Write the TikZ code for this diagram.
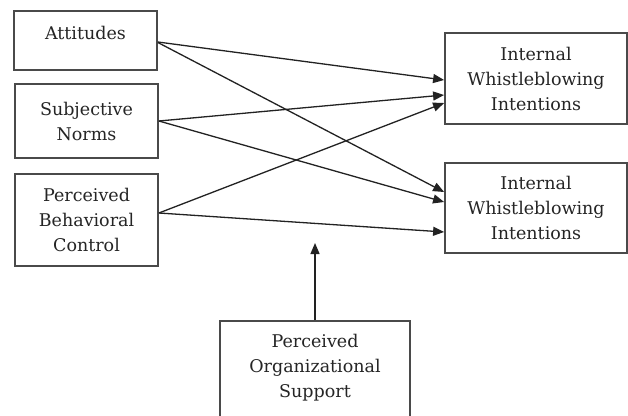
\documentclass[tikz,border=0pt]{standalone}
\usepackage{fontspec}
\setmainfont{DejaVu Serif}
\usetikzlibrary{arrows.meta}
\definecolor{ln}{HTML}{222222}
\definecolor{bx}{HTML}{4A4A4A}
\definecolor{tx}{HTML}{252525}
\begin{document}
\begin{tikzpicture}[x=1pt,y=-1pt,
  box/.style={draw=bx,line width=1.8pt,rectangle,inner sep=0pt,font=\fontsize{17.5}{25}\selectfont,text=tx,align=center},
  txt/.style={font=\fontsize{17.5}{25}\selectfont,text=tx,align=center,inner sep=0pt},
  arr/.style={draw=ln,line width=1.3pt,-{Triangle[length=11pt,width=9pt]}}]
\useasboundingbox (0,0) rectangle (628,415);
\fill[white] (0,0) rectangle (628,415);
\node[box,minimum width=143,minimum height=59] (att) at (85.5,40.5) {};
\node[txt] (attt) at (85.5,33) {Attitudes};
\node[box,minimum width=143,minimum height=74] (sn) at (86.5,121) {Subjective\\Norms};
\node[box,minimum width=143,minimum height=92] (pbc) at (86.5,220) {Perceived\\Behavioral\\Control};
\node[box,minimum width=182,minimum height=91] (int1) at (536,78.5) {Internal\\Whistleblowing\\Intentions};
\node[box,minimum width=182,minimum height=90] (int2) at (536,208) {Internal\\Whistleblowing\\Intentions};
\node[box,minimum width=190,minimum height=100] (pos) at (315,371) {};
\node[txt] (post) at (315,368) {Perceived\\Organizational\\Support};
\coordinate (mod) at (315,243);
\draw[arr] ([yshift=-1.5pt]att.east) -- ([yshift=-1.5pt]int1.west);
\draw[arr] ([yshift=-2pt]att.east) -- ([yshift=16pt]int2.west);
\draw[arr] (sn.east) -- ([yshift=-16.5pt]int1.west);
\draw[arr] (sn.east) -- ([yshift=6pt]int2.west);
\draw[arr] ([yshift=7pt]pbc.east) -- ([yshift=-24.5pt]int1.west);
\draw[arr] ([yshift=7pt]pbc.east) -- ([yshift=-24pt]int2.west);
\draw[arr] (pos.north) -- (mod);
\end{tikzpicture}
\end{document}
